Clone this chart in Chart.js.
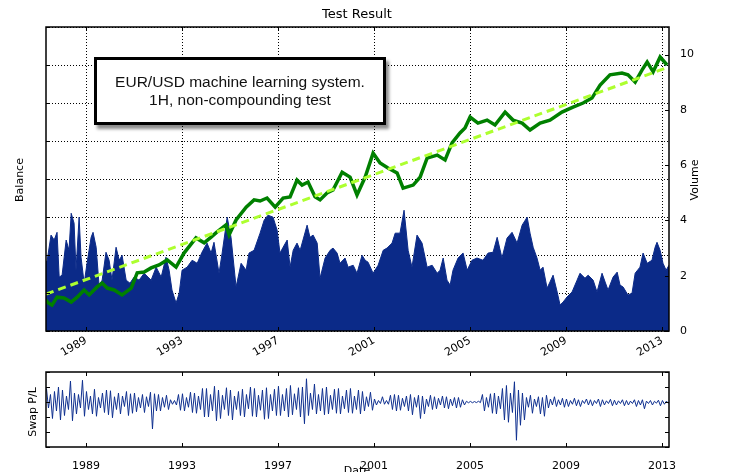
<!DOCTYPE html>
<html>
<head>
<meta charset="utf-8">
<title>Test Result</title>
<script src="https://cdn.jsdelivr.net/npm/chart.js@4.4.1/dist/chart.umd.min.js"></script>
<style>
  html, body { margin: 0; padding: 0; background: #fff; }
  body { width: 729px; height: 472px; position: relative; overflow: hidden; }
  canvas { position: absolute; left: 0; }
  #main { top: 0; }
  #swap { top: 362px; }
  .note {
    position: absolute; left: 94px; top: 57px; width: 292px; height: 68px;
    box-sizing: border-box; border: 3px solid #000; background: #fff;
    box-shadow: 3px 4px 3px rgba(0, 0, 0, 0.45);
    font: 15.5px "Liberation Sans", Arial, sans-serif; color: #111;
    text-align: center; line-height: 18px; padding-top: 13px;
  }
</style>
</head>
<body>
<canvas id="main" width="729" height="365"></canvas>
<canvas id="swap" width="729" height="110"></canvas>
<div class="note">EUR/USD machine learning system.<br>1H, non-compounding test</div>
<script>
// tick labels
const tickYears = [1989, 1993, 1997, 2001, 2005, 2009, 2013];
const volumeTicks = [0, 2, 4, 6, 8, 10];

// balance curve (axis has no printed values, read in grid units)
const balanceYears = [1987.33, 1987.38, 1987.58, 1987.79, 1988.08, 1988.38, 1988.63, 1988.92, 1989.13, 1989.46,
  1989.67, 1989.88, 1990.17, 1990.5, 1990.88, 1991.13, 1991.42, 1991.71, 1992.04, 1992.38,
  1992.75, 1993.08, 1993.58, 1993.92, 1994.21, 1994.46, 1994.83, 1994.96, 1995.25, 1995.67,
  1996.0, 1996.25, 1996.54, 1996.88, 1997.21, 1997.5, 1997.79, 1998.0, 1998.25, 1998.54,
  1998.75, 1999.04, 1999.29, 1999.67, 2000.0, 2000.29, 2000.63, 2000.96, 2001.25, 2001.58,
  2001.96, 2002.21, 2002.63, 2002.92, 2003.21, 2003.63, 2003.96, 2004.25, 2004.58, 2004.79,
  2005.0, 2005.33, 2005.71, 2006.04, 2006.46, 2006.79, 2007.17, 2007.5, 2007.92, 2008.33,
  2008.83, 2009.29, 2009.71, 2010.08, 2010.42, 2010.83, 2011.33, 2011.58, 2011.88, 2012.17,
  2012.38, 2012.63, 2012.92, 2013.21];
const balanceValues = [0.82, 0.76, 0.68, 0.89, 0.87, 0.76, 0.89, 1.08, 0.95, 1.16,
  1.26, 1.13, 1.08, 0.95, 1.13, 1.53, 1.55, 1.66, 1.74, 1.87,
  1.68, 2.05, 2.45, 2.32, 2.47, 2.61, 2.79, 2.53, 2.92, 3.26,
  3.45, 3.42, 3.5, 3.26, 3.5, 3.53, 3.97, 3.84, 3.92, 3.53,
  3.45, 3.63, 3.71, 4.18, 4.05, 3.58, 4.05, 4.68, 4.42, 4.29,
  4.16, 3.76, 3.84, 4.05, 4.55, 4.63, 4.5, 4.95, 5.21, 5.34,
  5.63, 5.47, 5.55, 5.42, 5.76, 5.55, 5.47, 5.29, 5.47, 5.55,
  5.76, 5.89, 6.0, 6.13, 6.47, 6.74, 6.79, 6.74, 6.55, 6.87,
  7.08, 6.82, 7.21, 7.0];

// fitted trend line
const trendYears = [1987.33, 2013.29];
const trendValues = [0.97, 6.95];

// volume
const volumeYears = [1987.33, 1987.38, 1987.54, 1987.67, 1987.79, 1987.88, 1988.0, 1988.17, 1988.29, 1988.38,
  1988.5, 1988.58, 1988.71, 1988.79, 1988.92, 1989.04, 1989.21, 1989.29, 1989.42, 1989.54,
  1989.67, 1989.83, 1989.96, 1990.08, 1990.25, 1990.38, 1990.5, 1990.67, 1990.83, 1991.0,
  1991.21, 1991.42, 1991.71, 1991.92, 1992.13, 1992.33, 1992.46, 1992.58, 1992.75, 1992.88,
  1993.0, 1993.21, 1993.42, 1993.63, 1993.83, 1994.04, 1994.21, 1994.33, 1994.54, 1994.67,
  1994.88, 1995.04, 1995.25, 1995.46, 1995.67, 1995.79, 1996.0, 1996.25, 1996.42, 1996.58,
  1996.79, 1996.96, 1997.08, 1997.21, 1997.38, 1997.5, 1997.63, 1997.79, 1997.92, 1998.21,
  1998.33, 1998.46, 1998.63, 1998.75, 1998.96, 1999.17, 1999.29, 1999.46, 1999.58, 1999.79,
  1999.92, 2000.13, 2000.29, 2000.5, 2000.63, 2000.75, 2000.96, 2001.17, 2001.38, 2001.54,
  2001.75, 2001.88, 2002.08, 2002.25, 2002.42, 2002.58, 2002.79, 2003.0, 2003.21, 2003.42,
  2003.63, 2003.75, 2003.88, 2004.04, 2004.17, 2004.29, 2004.5, 2004.71, 2004.88, 2005.08,
  2005.29, 2005.54, 2005.75, 2005.96, 2006.13, 2006.33, 2006.54, 2006.75, 2006.96, 2007.17,
  2007.38, 2007.5, 2007.63, 2007.79, 2007.92, 2008.04, 2008.21, 2008.33, 2008.46, 2008.63,
  2008.75, 2008.88, 2009.04, 2009.25, 2009.46, 2009.58, 2009.79, 2009.92, 2010.13, 2010.29,
  2010.5, 2010.63, 2010.75, 2010.96, 2011.13, 2011.25, 2011.38, 2011.58, 2011.75, 2011.88,
  2012.08, 2012.21, 2012.38, 2012.58, 2012.71, 2012.79, 2012.92, 2013.04, 2013.17, 2013.29];
const volumeValues = [2.49, 2.56, 3.47, 3.29, 3.57, 1.95, 2.02, 3.29, 2.92, 4.26,
  3.9, 2.2, 4.12, 2.67, 1.73, 2.45, 3.39, 3.57, 3.03, 1.66,
  1.84, 2.85, 2.56, 1.84, 3.03, 2.56, 2.74, 1.84, 1.73, 1.95,
  1.84, 2.09, 1.84, 2.31, 1.95, 2.67, 2.2, 1.48, 1.01, 1.37,
  2.2, 2.31, 2.56, 2.45, 2.85, 3.18, 2.82, 3.21, 2.09, 2.82,
  4.12, 3.39, 1.59, 2.45, 2.2, 2.82, 2.92, 3.54, 4.01, 4.19,
  4.12, 3.65, 2.82, 3.03, 3.29, 2.31, 2.92, 3.18, 2.92, 3.83,
  3.39, 3.47, 3.18, 1.91, 2.64, 2.92, 3.0, 2.82, 2.45, 2.64,
  2.31, 2.38, 2.09, 2.74, 2.56, 2.49, 2.09, 2.38, 2.92, 3.0,
  3.18, 3.54, 3.54, 4.37, 2.92, 2.31, 3.47, 3.18, 2.31, 2.38,
  2.09, 2.2, 2.64, 1.84, 1.66, 2.2, 2.64, 2.82, 2.2, 2.56,
  2.64, 2.56, 2.82, 2.85, 3.39, 2.64, 3.36, 3.57, 3.18, 3.83,
  4.12, 3.54, 3.03, 2.64, 2.2, 2.31, 1.55, 1.77, 2.02, 1.41,
  0.94, 1.05, 1.23, 1.41, 1.84, 2.09, 1.91, 2.02, 1.84, 1.41,
  2.09, 1.77, 1.48, 1.95, 2.13, 1.66, 1.59, 1.3, 1.37, 2.09,
  2.31, 2.82, 2.45, 2.56, 3.03, 3.21, 2.92, 2.45, 2.2, 2.38];

// swap P/L, one value every 1/12 year from swapStart (highs and lows of the trace)
const swapStart = 1987.35;
const swapStep = 1 / 12;
const swapValues = [
  0.9, -0.4, 0.5, -1.1, 0.7, -0.6, 1.0, -1.2,
  0.8, -0.9, 0.4, -0.5, 1.4, -1.25, 0.6, -0.8, 0.5, -0.4, 1.45, -0.95,
  0.7, -0.5, 0.4, -0.8, 0.85, -0.95, 0.3, -0.4, 0.6, -0.7, 0.8, -0.85,
  0.75, -1.05, 0.35, -0.5, 0.6, -0.8, 0.4, -0.3, 0.7, -0.9, 0.55, -0.75,
  0.6, -0.65, 0.3, -0.4, 0.5, -0.7, 0.35, -0.3, 0.65, -1.8, 0.55, -0.6,
  0.5, -0.6, 0.3, -0.35, 0.45, -0.5, 0.15, -0.15, 0.1, -0.2, 0.5, -0.55,
  0.55, -0.6, 0.3, -0.35, 0.65, -0.7, 0.6, -0.75, 0.4, -0.5, 0.9, -1.0,
  0.9, -1.0, 0.5, -0.6, 1.05, -1.25, 0.8, -1.1, 0.45, -0.5, 0.95, -0.9,
  0.8, -1.2, 0.4, -0.5, 0.7, -0.9, 0.85, -1.0, 0.5, -0.45, 1.0, -0.95,
  0.9, -1.0, 0.45, -0.55, 0.8, -1.15, 0.95, -1.1, 0.5, -0.6, 0.85, -0.9,
  1.05, -0.9, 0.5, -0.6, 0.9, -1.0, 1.1, -0.85, 0.55, -0.5, 0.95, -1.0,
  1.0, -1.45, 1.55, -0.9, 0.6, -0.5, 1.2, -0.8, 0.5, -0.6, 0.9, -0.85,
  1.0, -0.8, 0.45, -0.5, 0.85, -0.75, 0.9, -0.8, 0.4, -0.45, 0.8, -0.7,
  0.9, -0.75, 0.4, -0.5, 0.8, -0.8, 0.7, -0.6, 0.35, -0.3, 0.65, -0.55,
  0.2, -0.2, 0.1, -0.1, 0.35, -0.15, 0.1, -0.15, 0.45, -0.5, 0.5, -0.6,
  0.45, -0.55, 0.25, -0.3, 0.4, -0.6, 0.5, -0.85, 0.3, -0.35, 0.45, -1.1,
  0.4, -0.8, 0.2, -0.3, 0.45, -0.5, 0.35, -0.45, 0.25, -0.2, 0.4, -0.4,
  0.35, -0.45, 0.2, -0.25, 0.3, -0.4, 0.3, -0.35, 0.15, -0.2, 0.05, -0.05,
  0.04, -0.05, 0.03, -0.04, 0.05, -0.04, 0.5, -0.6, 0.3, -0.35, 0.55, -0.75,
  0.6, -0.8, 0.4, -0.45, 0.9, -1.2, 1.1, -1.35, 0.6, -0.7, 1.35, -2.55,
  0.8, -1.55, 0.6, -1.2, 0.3, -0.35, 0.45, -0.75, 0.2, -0.3, 0.35, -0.8,
  0.3, -0.95, 0.45, -0.4, 0.2, -0.2, 0.35, -0.3, 0.15, -0.2, 0.25, -0.35,
  0.2, -0.3, 0.1, -0.15, 0.25, -0.25, 0.15, -0.3, 0.1, -0.1, 0.2, -0.2,
  0.15, -0.25, 0.1, -0.1, 0.2, -0.3, 0.15, -0.2, 0.08, -0.1, 0.18, -0.25,
  0.12, -0.2, 0.08, -0.1, 0.15, -0.25, 0.1, -0.2, 0.06, -0.1, 0.15, -0.3,
  0.1, -0.2, 0.15, -0.45, 0.06, -0.1, 0.1, -0.2, 0.05, -0.08, 0.12, -0.25,
  0.1, -0.15, 0.06, -0.1];

const xMin = 1987.33, xMax = 2013.29;
const navy = '#0b2a88';

Chart.defaults.font.family = '"DejaVu Sans", sans-serif';
Chart.defaults.font.size = 11;
Chart.defaults.color = '#000';

const xy = (xs, ys) => xs.map((x, i) => ({ x: x, y: ys[i] }));
const setTicks = list => scale => { scale.ticks = list.map(v => ({ value: v })); };
const dotted = { color: '#000', lineWidth: 1, drawTicks: false };
const noBorder = { display: false, dash: [1, 2] };

// frame, inner tick marks and free texts (matplotlib look)
const frame = {
  id: 'frame',
  afterDraw(chart, args, opts) {
    const { ctx, chartArea: a } = chart;
    ctx.save();
    ctx.strokeStyle = '#000';
    ctx.lineWidth = 1;
    Object.entries(opts.ticks || {}).forEach(([id, sides]) => {
      const s = chart.scales[id];
      s.ticks.forEach((t, i) => {
        const p = Math.round(s.getPixelForTick(i)) + 0.5;
        ctx.beginPath();
        sides.forEach(side => {
          if (side === 'top') { ctx.moveTo(p, a.top); ctx.lineTo(p, a.top + 4); }
          if (side === 'bottom') { ctx.moveTo(p, a.bottom); ctx.lineTo(p, a.bottom - 4); }
          if (side === 'left') { ctx.moveTo(a.left, p); ctx.lineTo(a.left + 4, p); }
          if (side === 'right') { ctx.moveTo(a.right, p); ctx.lineTo(a.right - 4, p); }
        });
        ctx.stroke();
      });
    });
    ctx.lineWidth = 1.5;
    ctx.strokeRect(a.left, a.top, a.right - a.left, a.bottom - a.top);
    (opts.texts || []).forEach(t => {
      ctx.save();
      ctx.translate(t.x, t.y);
      ctx.rotate(t.rot || 0);
      ctx.font = t.font || '11px "DejaVu Sans"';
      ctx.fillStyle = '#000';
      ctx.textAlign = 'center';
      ctx.textBaseline = t.baseline || 'middle';
      ctx.fillText(t.text, 0, 0);
      ctx.restore();
    });
    ctx.restore();
  }
};

new Chart(document.getElementById('main'), {
  type: 'line',
  data: {
    datasets: [
      { label: 'Trend', data: xy(trendYears, trendValues), yAxisID: 'yBal', order: 0,
        borderColor: '#adff2f', borderWidth: 3, borderDash: [8, 5], pointRadius: 0 },
      { label: 'Balance', data: xy(balanceYears, balanceValues), yAxisID: 'yBal', order: 1,
        borderColor: '#008000', borderWidth: 3.5, pointRadius: 0 },
      { label: 'Volume', data: xy(volumeYears, volumeValues), yAxisID: 'yVol', order: 2,
        borderColor: navy, backgroundColor: navy, borderWidth: 1, fill: 'origin', pointRadius: 0 }
    ]
  },
  options: {
    responsive: false, animation: false, events: [],
    layout: { padding: { top: 27, left: 0, right: 0, bottom: 0 } },
    plugins: {
      legend: { display: false }, tooltip: { enabled: false },
      frame: {
        ticks: { x: ['top', 'bottom'], yBal: ['left'], yVol: ['right'] },
        texts: [
          { text: 'Test Result', x: 357, y: 15, font: '13px "DejaVu Sans"' },
          { text: 'Balance', x: 20, y: 180, rot: -Math.PI / 2 },
          { text: 'Volume', x: 695, y: 180, rot: -Math.PI / 2 }
        ]
      }
    },
    scales: {
      x: {
        type: 'linear', min: xMin, max: xMax, z: 1,
        afterBuildTicks: setTicks(tickYears),
        afterFit: s => { s.height = 34; },
        ticks: { autoSkip: false, minRotation: 30, maxRotation: 30, padding: 3, callback: v => String(v) },
        grid: dotted, border: noBorder
      },
      yBal: {
        position: 'left', min: 0, max: 8, z: 1,
        afterFit: s => { s.width = 46; },
        ticks: { display: false, stepSize: 1 },
        grid: dotted, border: noBorder
      },
      yVol: {
        position: 'right', min: 0, max: 11,
        afterBuildTicks: setTicks(volumeTicks),
        afterFit: s => { s.width = 60; },
        ticks: { padding: 3 },
        grid: { display: false }, border: { display: false }
      }
    }
  },
  plugins: [frame]
});

new Chart(document.getElementById('swap'), {
  type: 'line',
  data: {
    datasets: [{
      label: 'Swap P/L',
      data: swapValues.map((v, i) => ({ x: swapStart + i * swapStep, y: v })),
      borderColor: '#0e2f8f', borderWidth: 1, pointRadius: 0
    }]
  },
  options: {
    responsive: false, animation: false, events: [],
    layout: { padding: { top: 10, left: 0, right: 60, bottom: 0 } },
    plugins: {
      legend: { display: false }, tooltip: { enabled: false },
      frame: {
        ticks: { x: ['top', 'bottom'], y: ['left', 'right'] },
        texts: [
          { text: 'Swap P/L', x: 33, y: 50, rot: -Math.PI / 2 },
          { text: 'Date', x: 357, y: 104, baseline: 'top' }
        ]
      }
    },
    scales: {
      x: {
        type: 'linear', min: xMin, max: xMax,
        afterBuildTicks: setTicks(tickYears),
        afterFit: s => { s.height = 25; },
        ticks: { autoSkip: false, minRotation: 0, maxRotation: 0, padding: 5, callback: v => String(v) },
        grid: { display: false }, border: { display: false }
      },
      y: {
        min: -3, max: 2,
        afterFit: s => { s.width = 46; },
        ticks: { display: false, stepSize: 1 },
        grid: { display: false }, border: { display: false }
      }
    }
  },
  plugins: [frame]
});
</script>
</body>
</html>
